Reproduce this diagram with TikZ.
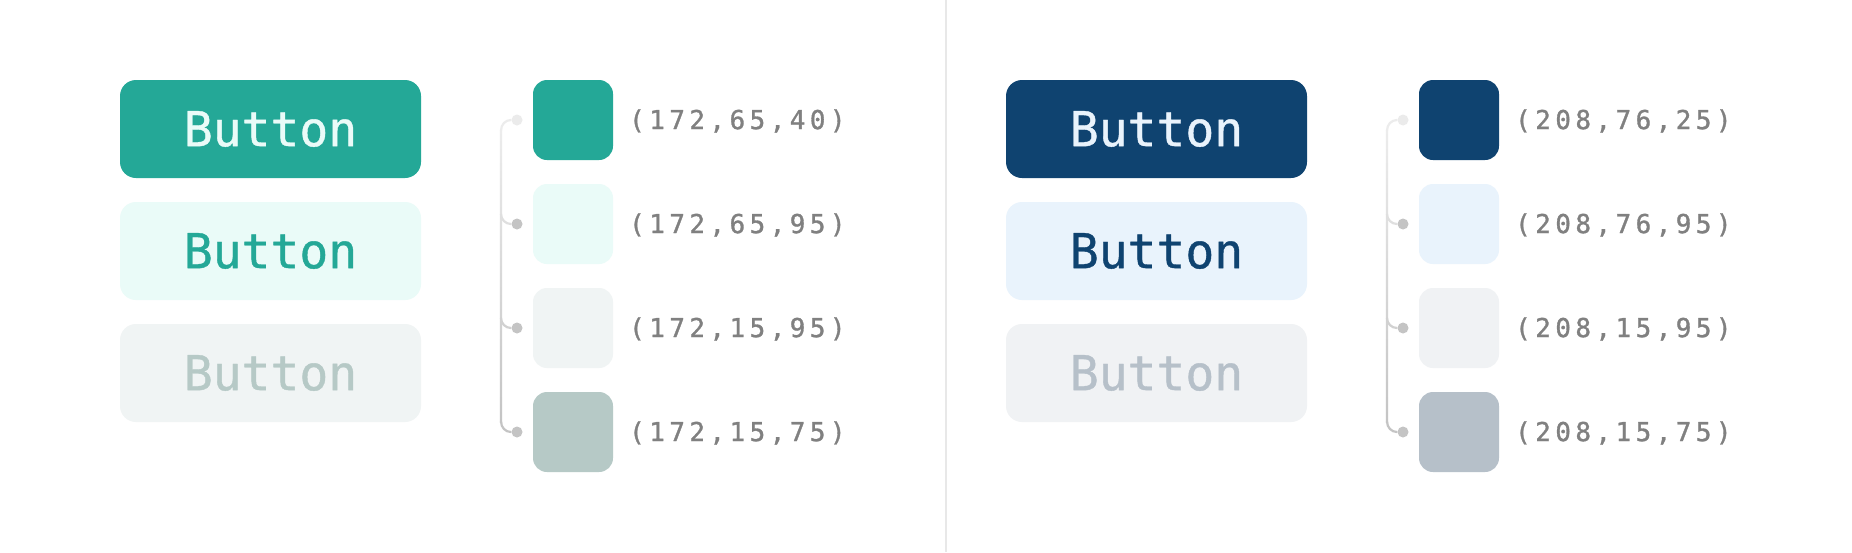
\documentclass[tikz,border=0pt]{standalone}
\usepackage{fontspec}
\newfontfamily\btnfont[FakeBold=0.8]{DejaVu Sans Mono}
\newfontfamily\lblfont[LetterSpace=17, FakeBold=1.2]{DejaVu Sans Mono}
\definecolor{tA}{RGB}{36,168,151}
\definecolor{tB}{RGB}{234,251,248}
\definecolor{tC}{RGB}{240,244,244}
\definecolor{tD}{RGB}{182,201,198}
\definecolor{nA}{RGB}{15,67,112}
\definecolor{nB}{RGB}{233,243,252}
\definecolor{nC}{RGB}{240,242,244}
\definecolor{nD}{RGB}{182,192,201}
\definecolor{lblgray}{RGB}{128,128,128}
\definecolor{lineTop}{RGB}{236,236,236}
\definecolor{lineBot}{RGB}{196,196,196}
\definecolor{dotTop}{RGB}{235,235,235}
\definecolor{dotBot}{RGB}{196,196,196}
\definecolor{divider}{RGB}{232,232,232}
\tikzset{
  btn/.style={rounded corners=16pt, minimum width=301pt, minimum height=98pt, inner sep=0pt, font=\btnfont\fontsize{48}{48}\selectfont},
  swatch/.style={rounded corners=14pt, minimum size=80pt, inner sep=0pt},
  dotnode/.style={circle, minimum size=11pt, inner sep=0pt},
  lbl/.style={anchor=west, inner sep=0pt, text=lblgray, font=\lblfont\fontsize{26}{26}\selectfont},
  conn/.style={line width=2.2pt},
}
\newcommand\drawpanel[9]{%
\begin{scope}[xshift=#2pt]
 \node[btn, fill=#5, text=#6] (#1b1) at (270.5,129) {Button};
 \node[btn, fill=#6, text=#5] (#1b2) at (270.5,251) {Button};
 \node[btn, fill=#7, text=#8] (#1b3) at (270.5,373) {Button};
 \node[swatch, fill=#5] (#1s1) at (573,120) {};
 \node[swatch, fill=#6] (#1s2) at (573,224) {};
 \node[swatch, fill=#7] (#1s3) at (573,328) {};
 \node[swatch, fill=#8] (#1s4) at (573,432) {};
 \node[lbl] (#1l1) at (629,121) {(#3,#4,#9)};
 \node[lbl] (#1l2) at (629,225) {(#3,#4,95)};
 \node[lbl] (#1l3) at (629,329) {(#3,15,95)};
 \node[lbl] (#1l4) at (629,433) {(#3,15,75)};
 \node[dotnode, fill=dotTop] (#1d1) at (517,120) {};
 \node[dotnode, fill=dotBot] (#1d2) at (517,224) {};
 \node[dotnode, fill=dotBot] (#1d3) at (517,328) {};
 \node[dotnode, fill=dotBot] (#1d4) at (517,432) {};
 \shade[top color=lineTop, bottom color=lineBot] (499.9,130) rectangle (502.1,422);
 \draw[conn, lineTop] (#1d1.west) -- (511,120) .. controls (505.5,120) and (501,124.5) .. (501,130.5);
 \draw[conn, lineTop!68!lineBot] (501,214) .. controls (501,219.5) and (505.5,224) .. (511,224) -- (#1d2.west);
 \draw[conn, lineTop!32!lineBot] (501,318) .. controls (501,323.5) and (505.5,328) .. (511,328) -- (#1d3.west);
 \draw[conn, lineBot] (501,421.5) .. controls (501,427.5) and (505.5,432) .. (511,432) -- (#1d4.west);
\end{scope}}
\begin{document}
\begin{tikzpicture}[x=1pt, y=-1pt]
 \useasboundingbox (0,0) rectangle (1852,552);
 \fill[white] (0,0) rectangle (1852,552);
 \draw[divider, line width=1.3pt] (946,0) -- (946,552);
 \drawpanel{L}{0}{172}{65}{tA}{tB}{tC}{tD}{40}
 \drawpanel{R}{886}{208}{76}{nA}{nB}{nC}{nD}{25}
\end{tikzpicture}
\end{document}
